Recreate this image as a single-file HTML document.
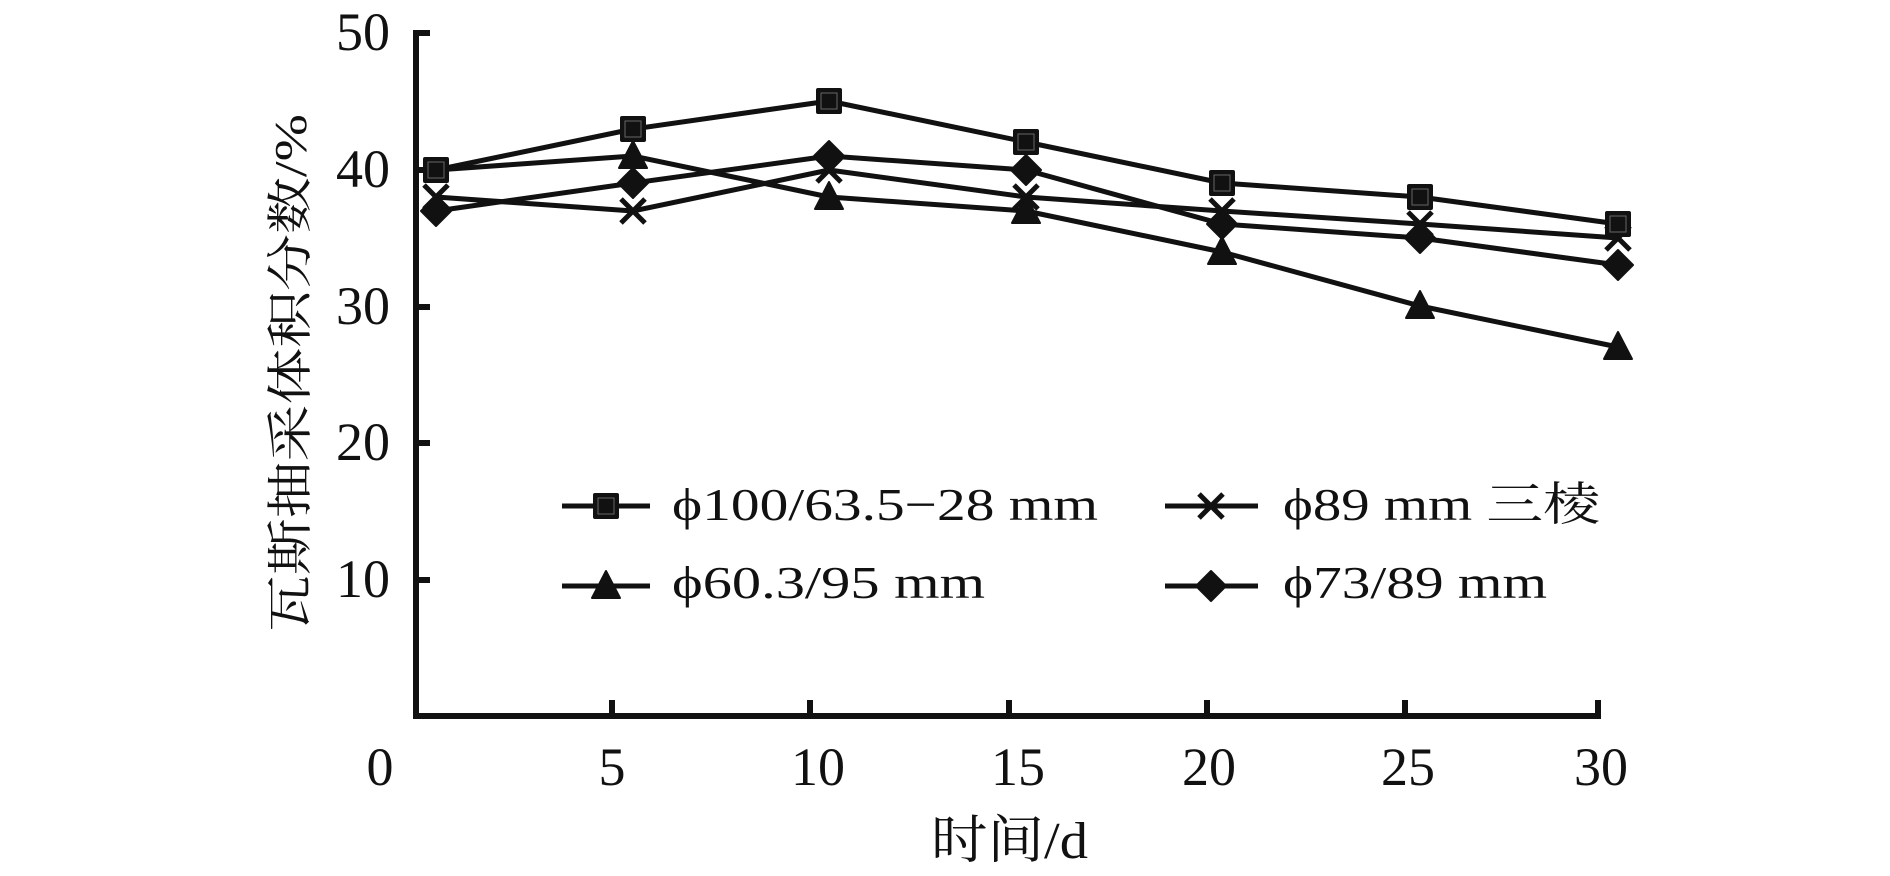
<!DOCTYPE html>
<html><head><meta charset="utf-8"><style>
html,body{margin:0;padding:0;background:#fff;}
svg{display:block;}
text{font-family:"Liberation Serif","Noto Serif CJK SC",serif;fill:#111;}
</style></head><body>
<svg width="1890" height="876" viewBox="0 0 1890 876" xmlns="http://www.w3.org/2000/svg">
<g stroke="#111" stroke-width="6" fill="none">
<line x1="416" y1="30" x2="416" y2="719"/>
<line x1="413" y1="716" x2="1601" y2="716"/>
</g>
<g stroke="#111" stroke-width="6">
<line x1="416" y1="33" x2="430" y2="33"/>
<line x1="416" y1="170" x2="430" y2="170"/>
<line x1="416" y1="307" x2="430" y2="307"/>
<line x1="416" y1="443" x2="430" y2="443"/>
<line x1="416" y1="580" x2="430" y2="580"/>
<line x1="612" y1="700" x2="612" y2="716"/>
<line x1="810" y1="700" x2="810" y2="716"/>
<line x1="1009" y1="700" x2="1009" y2="716"/>
<line x1="1207" y1="700" x2="1207" y2="716"/>
<line x1="1405" y1="700" x2="1405" y2="716"/>
<line x1="1598" y1="700" x2="1598" y2="716"/>
</g>
<g font-size="54" text-anchor="end">
<text x="390" y="50">50</text>
<text x="390" y="187">40</text>
<text x="390" y="324">30</text>
<text x="390" y="460">20</text>
<text x="390" y="597">10</text>
</g>
<g font-size="54" text-anchor="middle">
<text x="380" y="785">0</text>
<text x="612" y="785">5</text>
<text x="818" y="785">10</text>
<text x="1018" y="785">15</text>
<text x="1209" y="785">20</text>
<text x="1408" y="785">25</text>
<text x="1601" y="785">30</text>
</g>
<text x="931" y="858" font-size="52" textLength="157" lengthAdjust="spacingAndGlyphs">时间/d</text>
<text transform="translate(306,632) rotate(-90)" font-size="46" textLength="518" lengthAdjust="spacingAndGlyphs">瓦斯抽采体积分数/%</text>

<g stroke="#111" stroke-width="5" fill="none" stroke-linejoin="round">
<polyline points="436,170 633,129 829,101 1026,142 1222,183 1420,197 1618,224"/>
<polyline points="436,197 633,211 829,170 1026,197 1222,211 1420,224 1618,238"/>
<polyline points="436,170 633,156 829,197 1026,211 1222,252 1420,306 1618,347"/>
<polyline points="436,211 633,183 829,156 1026,170 1222,224 1420,238 1618,265"/>
</g>
<defs>
<g id="sq"><rect x="-13" y="-13" width="26" height="26" rx="2" fill="#111"/><rect x="-8" y="-8" width="16" height="16" fill="none" stroke="#666" stroke-width="1"/></g>
<g id="tri"><polygon points="0,-15 14,12 -14,12" fill="#111" stroke="#111" stroke-width="2" stroke-linejoin="round"/></g>
<g id="dia"><polygon points="0,-15 15,0 0,15 -15,0" fill="#111" stroke="#111" stroke-width="2" stroke-linejoin="round"/></g>
<g id="x"><path d="M-12,-12 L12,12 M12,-12 L-12,12" stroke="#111" stroke-width="5"/></g>
</defs>
<use href="#x" x="436" y="197"/><use href="#x" x="633" y="211"/><use href="#x" x="829" y="170"/><use href="#x" x="1026" y="197"/><use href="#x" x="1222" y="211"/><use href="#x" x="1420" y="224"/><use href="#x" x="1618" y="238"/>
<use href="#dia" x="436" y="211"/><use href="#dia" x="633" y="183"/><use href="#dia" x="829" y="156"/><use href="#dia" x="1026" y="170"/><use href="#dia" x="1222" y="224"/><use href="#dia" x="1420" y="238"/><use href="#dia" x="1618" y="265"/>
<use href="#tri" x="633" y="156"/><use href="#tri" x="829" y="197"/><use href="#tri" x="1026" y="211"/><use href="#tri" x="1222" y="252"/><use href="#tri" x="1420" y="306"/><use href="#tri" x="1618" y="347"/>
<use href="#sq" x="436" y="170"/><use href="#sq" x="633" y="129"/><use href="#sq" x="829" y="101"/><use href="#sq" x="1026" y="142"/><use href="#sq" x="1222" y="183"/><use href="#sq" x="1420" y="197"/><use href="#sq" x="1618" y="224"/>

<g stroke="#111" stroke-width="5">
<line x1="562" y1="506" x2="650" y2="506"/>
<line x1="562" y1="586" x2="650" y2="586"/>
<line x1="1165" y1="506" x2="1258" y2="506"/>
<line x1="1165" y1="586" x2="1258" y2="586"/>
</g>
<use href="#sq" x="606" y="506"/>
<use href="#tri" x="606" y="586"/>
<use href="#x" x="1211" y="506"/>
<use href="#dia" x="1211" y="586"/>
<g font-size="46">
<text x="672" y="520" textLength="426" lengthAdjust="spacingAndGlyphs">ϕ100/63.5−28 mm</text>
<text x="672" y="598" textLength="313" lengthAdjust="spacingAndGlyphs">ϕ60.3/95 mm</text>
<text x="1283" y="520" textLength="317" lengthAdjust="spacingAndGlyphs">ϕ89 mm 三棱</text>
<text x="1283" y="598" textLength="264" lengthAdjust="spacingAndGlyphs">ϕ73/89 mm</text>
</g>
</svg>
</body></html>
